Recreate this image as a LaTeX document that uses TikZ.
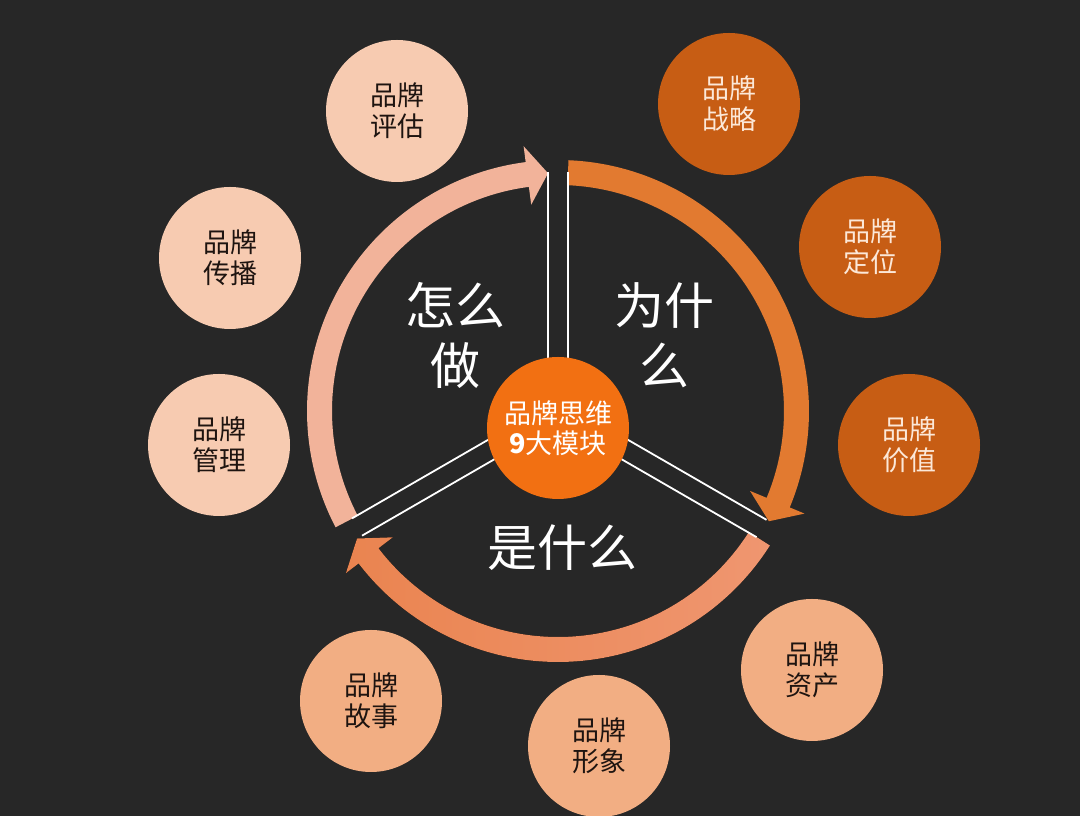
\documentclass[tikz,border=0pt]{standalone}
\usepackage{fontspec}
\setmainfont{Noto Sans CJK SC}
\usetikzlibrary{calc}
\definecolor{bg}{HTML}{272727}
\definecolor{arcpink}{HTML}{F2B39A}
\definecolor{arcorange}{HTML}{E27A30}
\definecolor{arcsalmonR}{HTML}{EF9670}
\definecolor{arcsalmonL}{HTML}{EA8450}
\definecolor{satdark}{HTML}{C75D14}
\definecolor{satpale}{HTML}{F7CBB1}
\definecolor{satmid}{HTML}{F2AE83}
\definecolor{coreorange}{HTML}{F27012}
\definecolor{darktext}{HTML}{1E1410}
\definecolor{creamtext}{HTML}{FCE8D8}
% #1 fill options, #2 start angle, #3 tip angle (clockwise travel)
\newcommand\ringarrow[3]{%
  \pgfmathsetmacro\hbase{#3+5}%
  \fill[#1] (#2:251pt) arc[start angle=#2, end angle=\hbase, radius=251pt]
    -- (\hbase:267pt) -- (#3:238pt) -- (\hbase:208pt) -- (\hbase:226pt)
    arc[start angle=\hbase, end angle=#2, radius=226pt] -- cycle;}
\begin{document}
\begin{tikzpicture}[x=1pt,y=1pt,
  divline/.style={draw=white, line width=1.8pt},
  sat/.style={circle, minimum size=142pt, inner sep=0pt, align=center,
    font=\fontsize{27}{31}\selectfont},
  satd/.style={sat, fill=satdark, text=creamtext},
  satp/.style={sat, fill=satpale, text=darktext},
  satm/.style={sat, fill=satmid, text=darktext},
  bigtxt/.style={text=white, align=center, font=\fontsize{50}{60}\selectfont}]
\fill[bg] (0,0) rectangle (1080,816);
\useasboundingbox (0,0) rectangle (1080,816);

\begin{scope}[shift={(558,405)}]
  \ringarrow{arcpink}{207.6}{92.4}
  \ringarrow{arcorange}{87.6}{-27.6}
  \ringarrow{left color=arcsalmonL, right color=arcsalmonR}{-32.4}{-147.6}
  \foreach \a/\L in {90/239, -30/235, 210/232} {
    \draw[divline, shift={(\a+90:10)}] (0,0) -- (\a:\L);
    \draw[divline, shift={(\a-90:10)}] (0,0) -- (\a:\L);
  }
\end{scope}

\node[circle, fill=coreorange, minimum size=142pt, inner sep=0pt, text=white,
  align=center, font=\fontsize{27}{30}\selectfont] (core) at (558,388)
  {品牌思维\\{\bfseries 9}大模块};

\node[bigtxt] (how) at (455,481) {怎么\\做};
\node[bigtxt] (why) at (664,481) {为什\\么};
\node[bigtxt] (what) at (562,268) {是什么};

\node[satp] (eval) at (397,705) {品牌\\评估};
\node[satp] (spread) at (230,558) {品牌\\传播};
\node[satp] (manage) at (219,371) {品牌\\管理};
\node[satd] (strategy) at (729,712) {品牌\\战略};
\node[satd] (position) at (870,569) {品牌\\定位};
\node[satd] (value) at (909,371) {品牌\\价值};
\node[satm] (asset) at (812,146) {品牌\\资产};
\node[satm] (image) at (599,70) {品牌\\形象};
\node[satm] (story) at (371,115) {品牌\\故事};
\end{tikzpicture}
\end{document}
